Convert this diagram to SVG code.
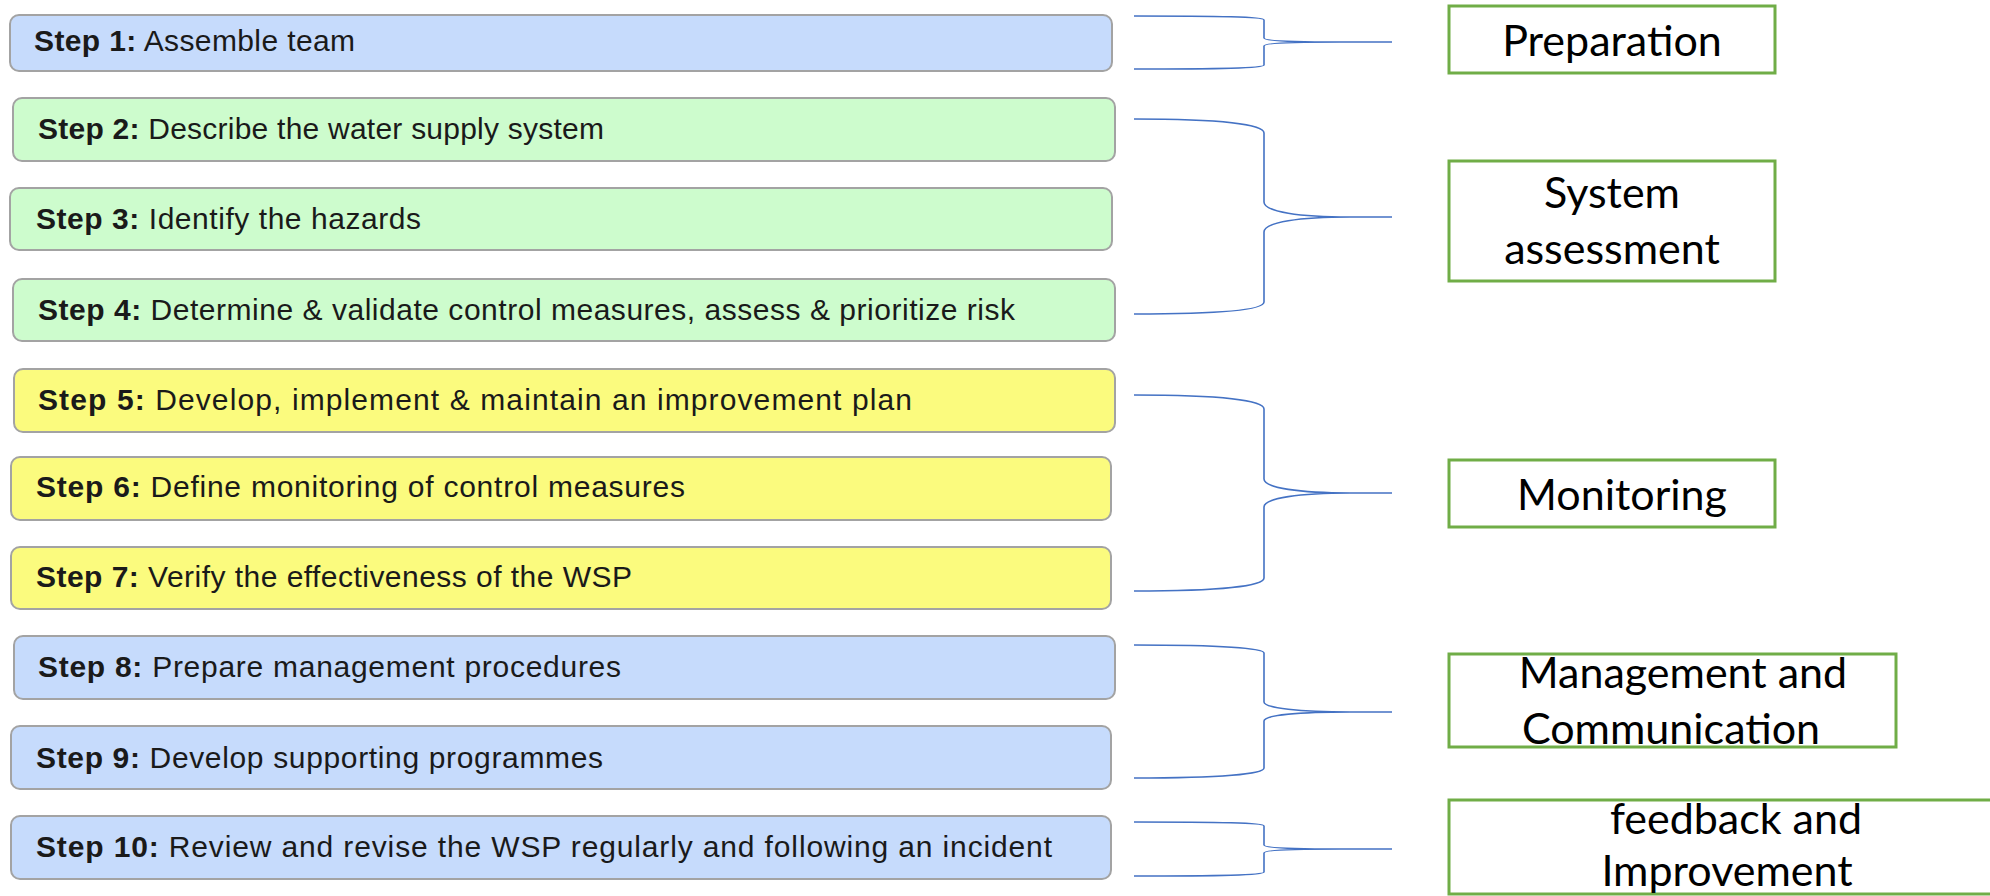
<svg xmlns="http://www.w3.org/2000/svg" width="1990" height="896" viewBox="0 0 1990 896">
<style>
.step{stroke:#a3a3a3;stroke-width:2}
.blue{fill:#c6dbfc}
.green{fill:#cdfccd}
.yellow{fill:#fbfb7e}
.st{font-family:"Liberation Sans",Arial,sans-serif;font-size:30px;fill:#1a1a1a}
.b{font-weight:bold}
.phase{fill:#ffffff;stroke:#70ad47;stroke-width:3}
.pt{font-family:Lato,"Liberation Sans",sans-serif;font-size:43px;fill:#000000;text-anchor:middle}
.br{fill:none;stroke:#4472c4;stroke-width:1.6}
</style>
<rect width="1990" height="896" fill="#ffffff"/>
<g id="step1"><rect class="step blue" x="10" y="15" width="1102" height="56" rx="9"/><text class="st" x="34" y="51" textLength="321" lengthAdjust="spacing"><tspan class="b">Step 1:</tspan> Assemble team</text></g>
<g id="step2"><rect class="step green" x="13" y="98" width="1102" height="63" rx="9"/><text class="st" x="38" y="139" textLength="566" lengthAdjust="spacing"><tspan class="b">Step 2:</tspan> Describe the water supply system</text></g>
<g id="step3"><rect class="step green" x="10" y="188" width="1102" height="62" rx="9"/><text class="st" x="36" y="229" textLength="385" lengthAdjust="spacing"><tspan class="b">Step 3:</tspan> Identify the hazards</text></g>
<g id="step4"><rect class="step green" x="13" y="279" width="1102" height="62" rx="9"/><text class="st" x="38" y="320" textLength="977" lengthAdjust="spacing"><tspan class="b">Step 4:</tspan> Determine &amp; validate control measures, assess &amp; prioritize risk</text></g>
<g id="step5"><rect class="step yellow" x="14" y="369" width="1101" height="63" rx="9"/><text class="st" x="38" y="410" textLength="874" lengthAdjust="spacing"><tspan class="b">Step 5:</tspan> Develop, implement &amp; maintain an improvement plan</text></g>
<g id="step6"><rect class="step yellow" x="11" y="457" width="1100" height="63" rx="9"/><text class="st" x="36" y="497" textLength="649" lengthAdjust="spacing"><tspan class="b">Step 6:</tspan> Define monitoring of control measures</text></g>
<g id="step7"><rect class="step yellow" x="11" y="547" width="1100" height="62" rx="9"/><text class="st" x="36" y="587" textLength="596" lengthAdjust="spacing"><tspan class="b">Step 7:</tspan> Verify the effectiveness of the WSP</text></g>
<g id="step8"><rect class="step blue" x="14" y="636" width="1101" height="63" rx="9"/><text class="st" x="38" y="677" textLength="583" lengthAdjust="spacing"><tspan class="b">Step 8:</tspan> Prepare management procedures</text></g>
<g id="step9"><rect class="step blue" x="11" y="726" width="1100" height="63" rx="9"/><text class="st" x="36" y="768" textLength="567" lengthAdjust="spacing"><tspan class="b">Step 9:</tspan> Develop supporting programmes</text></g>
<g id="step10"><rect class="step blue" x="11" y="816" width="1100" height="63" rx="9"/><text class="st" x="36" y="857" textLength="1016" lengthAdjust="spacing"><tspan class="b">Step 10:</tspan> Review and revise the WSP regularly and following an incident</text></g>
<g id="connectors">
<path class="br" d="M1134,16 C1220,16 1264,17 1264,20 L1264,38 C1264,41 1300,42 1340,42 M1340,42 C1300,42 1264,43 1264,46 L1264,65 C1264,68 1220,69 1134,69 M1320,42 H1392"/>
<path class="br" d="M1134,119 C1220,119 1264,124 1264,133 L1264,202 C1264,212 1300,217 1350,217 M1350,217 C1300,217 1264,222 1264,232 L1264,302 C1264,310 1220,314 1134,314 M1330,217 H1392"/>
<path class="br" d="M1134,395 C1220,395 1264,400 1264,409 L1264,479 C1264,488 1300,493 1350,493 M1350,493 C1300,493 1264,498 1264,507 L1264,578 C1264,586 1220,591 1134,591 M1330,493 H1392"/>
<path class="br" d="M1134,645 C1220,645 1264,648 1264,653 L1264,702 C1264,708 1300,712 1350,712 M1350,712 C1300,712 1264,715 1264,721 L1264,768 C1264,774 1220,778 1134,778 M1330,712 H1392"/>
<path class="br" d="M1134,822 C1220,822 1264,823 1264,826 L1264,845 C1264,848 1300,849 1340,849 M1340,849 C1300,849 1264,850 1264,853 L1264,872 C1264,875 1220,876 1134,876 M1320,849 H1392"/>
</g>
<g id="preparation"><rect class="phase" x="1449" y="6" width="326" height="67"/><text class="pt" x="1612" y="56">Preparation</text></g>
<g id="system-assessment"><rect class="phase" x="1449" y="161" width="326" height="120"/><text class="pt" x="1612" y="208">System</text><text class="pt" x="1612" y="264">assessment</text></g>
<g id="monitoring"><rect class="phase" x="1449" y="460" width="326" height="67"/><text class="pt" x="1622" y="510">Monitoring</text></g>
<g id="management"><rect class="phase" x="1449" y="654" width="447" height="93"/><text class="pt" x="1683" y="688">Management and</text><text class="pt" x="1671" y="744">Communication</text></g>
<g id="feedback"><rect class="phase" x="1449" y="800" width="600" height="94"/><text class="pt" x="1736" y="834">feedback and</text><text class="pt" x="1727" y="886">Improvement</text></g>
</svg>
